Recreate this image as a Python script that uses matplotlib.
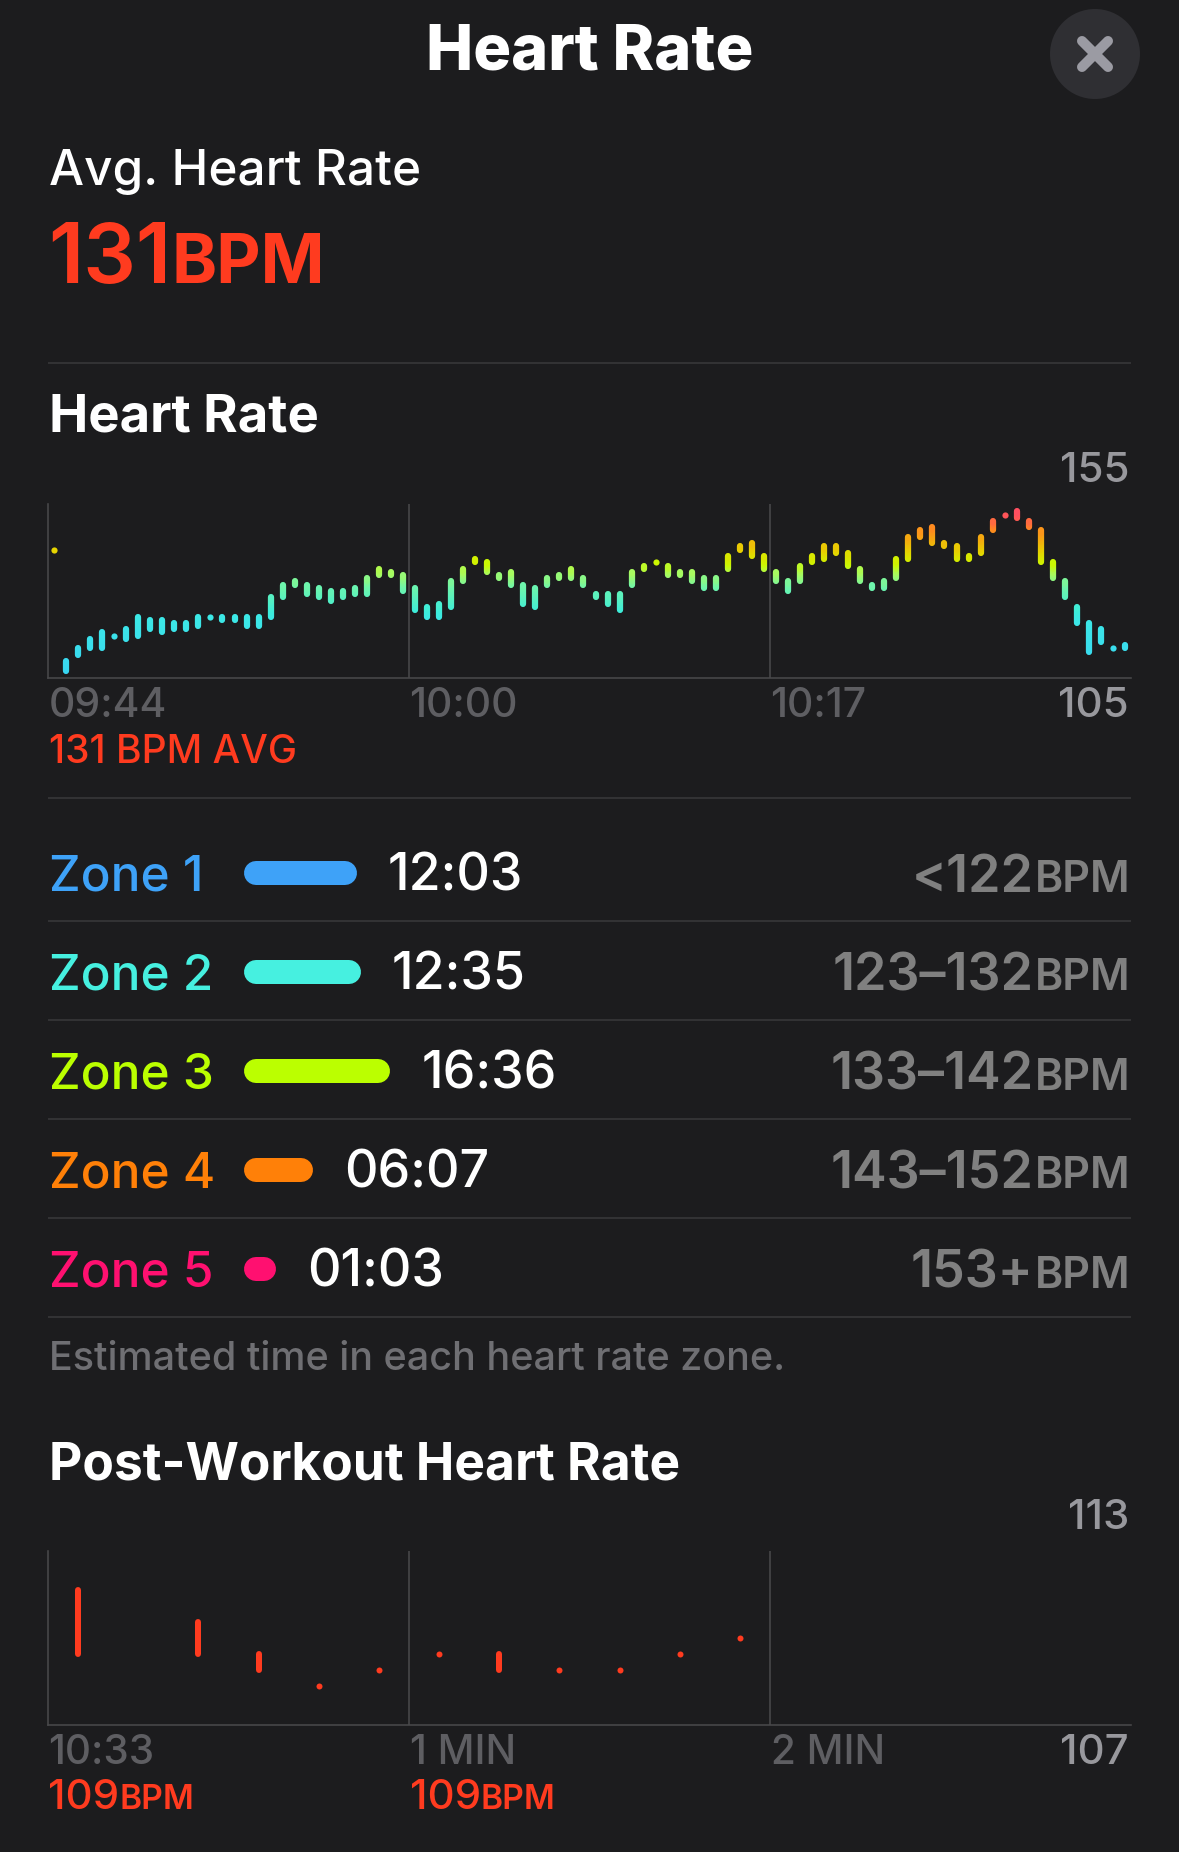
#!/usr/bin/env python3
"""
Dark heart rate workout summary screen: zones chart plus post-workout recovery.
"""

import matplotlib
matplotlib.use("Agg")
import matplotlib.pyplot as plt
from matplotlib.collections import LineCollection
from matplotlib.colors import LinearSegmentedColormap
from matplotlib.patches import Circle
import numpy as np

W, H = 1179, 1852
DPI = 100

BG = "#1C1C1E"
WHITE = "#FFFFFF"
RED = "#FF3B1F"
AXIS_C = "#48484A"
DIVIDER_C = "#3A3A3C"
TICK_C = "#5E5E62"
MUTED_C = "#98989D"
RANGE_C = "#808080"
NOTE_C = "#6F6F73"
FONT = ["Inter", "DejaVu Sans"]

# heart rate chart, one bar per bin
HR_LOW = [143, 105, 110, 112, 112, 116, 115, 116, 118, 117, 118, 118, 119, 122, 121,
          121, 119, 119, 122, 128, 132, 129, 128, 127, 128, 129, 129, 135, 135, 130,
          124, 122, 122, 125, 133, 139, 136, 134, 132, 126, 125, 132, 134, 134, 132,
          128, 126, 124, 132, 137, 139, 135, 135, 133, 131, 131, 137, 143, 141, 137,
          133, 130, 133, 139, 140, 142, 138, 133, 131, 131, 134, 140, 147, 145, 144,
          140, 140, 142, 149, 154, 153, 150, 139, 134, 128, 120, 111, 114, 112, 112]
HR_HIGH = [143, 108, 112, 115, 117, 116, 118, 122, 121, 121, 120, 120, 122, 122, 122,
           122, 122, 122, 128, 132, 133, 132, 131, 130, 130, 131, 134, 137, 136, 135,
           131, 125, 126, 133, 137, 140, 139, 135, 136, 132, 131, 134, 135, 137, 134,
           129, 129, 129, 136, 138, 139, 138, 136, 136, 134, 134, 141, 144, 145, 141,
           136, 133, 138, 141, 144, 144, 142, 137, 132, 133, 140, 147, 149, 150, 145,
           144, 141, 147, 152, 154, 155, 152, 149, 139, 133, 125, 120, 118, 112, 113]
HR_TICKS = [0, 30, 60]
HR_TICK_LABELS = ["09:44", "10:00", "10:17"]

# post-workout chart
POST_BINS = [0, 2, 3, 4, 5, 6, 7, 8, 9, 10, 11]
POST_LOW = [109, 109, 108, 107, 108, 109, 108, 108, 108, 109, 110]
POST_HIGH = [113, 111, 109, 107, 108, 109, 109, 108, 108, 109, 110]
POST_TICKS = [0, 6, 12]
POST_TICK_LABELS = ["10:33", "1 MIN", "2 MIN"]
POST_VALUES = ["109", "109"]

# zones
ZONE_NAMES = ["Zone 1", "Zone 2", "Zone 3", "Zone 4", "Zone 5"]
ZONE_COLORS = ["#3EA2F8", "#46F0E0", "#BBFF00", "#FF8008", "#FF1070"]
ZONE_SECONDS = [723, 755, 996, 367, 63]
ZONE_TIMES = ["12:03", "12:35", "16:36", "06:07", "01:03"]
ZONE_RANGES = ["<122", "123–132", "133–142", "143–152", "153+"]

BPM_STOPS = [105, 122, 124, 132, 136, 139, 143, 147, 150, 153, 155]
BPM_COLORS = ["#38D6F2", "#3CE8E6", "#3CECDC", "#70F5AA", "#A8FB60", "#CCF800",
              "#E6D400", "#F5A810", "#FF8A20", "#FF5A50", "#FF4F60"]


def pt(px):
    return px * 72 / DPI


def px_axes(fig, left, top, right, bottom):
    return fig.add_axes([left / W, 1 - bottom / H, (right - left) / W, (bottom - top) / H])


def style_chart(ax, xlim, ylim, ticks):
    ax.set_facecolor("none")
    ax.set_xlim(*xlim)
    ax.set_ylim(*ylim)
    ax.set_xticks([])
    ax.set_yticks([])
    for name, spine in ax.spines.items():
        spine.set_visible(name in ("left", "bottom"))
        spine.set_color(AXIS_C)
        spine.set_linewidth(pt(1.6))
    for x in ticks[1:]:
        ax.axvline(x, color=AXIS_C, lw=pt(1.6), zorder=1)


def heart_cmap():
    pos = (np.array(BPM_STOPS) - 105) / 50
    return LinearSegmentedColormap.from_list("hr", list(zip(pos, BPM_COLORS)))


def draw_hr_bars(ax, low, high):
    cmap = heart_cmap()
    segs, cols = [], []
    for i, (lo, hi) in enumerate(zip(low, high)):
        x = i + 0.5
        if lo == hi:
            ax.scatter([x], [lo], s=pt(6.2) ** 2, color=cmap((lo - 105) / 50), linewidths=0, zorder=3)
            continue
        edges = np.arange(lo, hi + 0.01, 0.25)
        for a, b in zip(edges[:-1], edges[1:]):
            segs.append([(x, a), (x, b)])
            cols.append(cmap(((a + b) / 2 - 105) / 50))
    ax.add_collection(LineCollection(segs, colors=cols, linewidths=pt(6.2), capstyle="round", zorder=3))


def draw_post_bars(ax):
    xs = np.array(POST_BINS) + 0.5
    lo, hi = np.array(POST_LOW), np.array(POST_HIGH)
    tall = lo != hi
    ax.vlines(xs[tall], lo[tall], hi[tall], color=RED, lw=pt(6), capstyle="round", zorder=3)
    ax.scatter(xs[~tall], lo[~tall], s=pt(6) ** 2, color=RED, linewidths=0, zorder=3)


def main():
    fig = plt.figure(figsize=(W / DPI, H / DPI), dpi=DPI, facecolor=BG)
    canvas = px_axes(fig, 0, 0, W, H)
    canvas.set_xlim(0, W)
    canvas.set_ylim(H, 0)
    canvas.axis("off")
    renderer = fig.canvas.get_renderer()

    def label(x, y, s, size, color, weight="normal", ha="left"):
        return canvas.text(x, y, s, fontsize=pt(size), color=color, fontweight=weight, ha=ha,
                           va="baseline", family=FONT)

    def number_unit(x, y, num, unit, size, unit_size, color, weight="normal", unit_weight=None, gap=0):
        t = label(x, y, num, size, color, weight)
        right = t.get_window_extent(renderer).x1
        label(right + gap, y, unit, unit_size, color, unit_weight or weight)

    def range_unit(x, y, num, unit, size, unit_size, color, weight="normal"):
        t = label(x, y, unit, unit_size, color, weight, ha="right")
        left = t.get_window_extent(renderer).x0
        label(left - 1, y, num, size, color, weight, ha="right")

    # header
    label(590, 70, "Heart Rate", 63, WHITE, "heavy", ha="center")
    canvas.add_patch(Circle((1095, 54), 45, fc="#2F2F33", ec="none"))
    canvas.plot([1082, 1108], [41, 67], color="#9B9BA3", lw=pt(10), solid_capstyle="round")
    canvas.plot([1082, 1108], [67, 41], color="#9B9BA3", lw=pt(10), solid_capstyle="round")

    label(49, 185, "Avg. Heart Rate", 49.5, WHITE, "medium")
    number_unit(48, 283, "131", "BPM", 83, 68.5, RED, "semibold", unit_weight="bold", gap=0)

    canvas.hlines([363, 798, 921, 1020, 1119, 1218, 1317], 48, 1131, color=DIVIDER_C, lw=pt(1.5))

    # heart rate chart
    label(49, 432, "Heart Rate", 52.5, WHITE, "bold")
    label(1129, 482, str(max(HR_HIGH)), 42, MUTED_C, "medium", ha="right")
    ax = px_axes(fig, 48, 504, 1131, 677.7)
    style_chart(ax, (0, len(HR_LOW)), (102.8, 157.3), HR_TICKS)
    draw_hr_bars(ax, HR_LOW, HR_HIGH)
    for tick, text in zip(HR_TICKS, HR_TICK_LABELS):
        label(48.5 + tick * 12.03, 717, text, 41, TICK_C, "medium")
    label(1129, 717, str(min(HR_LOW)), 42, MUTED_C, "medium", ha="right")
    label(49, 763, "131 BPM AVG", 39, RED, "medium")

    # zones
    rows = np.arange(len(ZONE_NAMES))
    zone_ax = px_axes(fig, 256, 873 - 49.5, 256 + 1000 * 0.1227, 873 + 4 * 99 + 49.5)
    zone_ax.set_xlim(0, 1000)
    zone_ax.set_ylim(4.5, -0.5)
    zone_ax.axis("off")
    zone_ax.hlines(rows, 0, ZONE_SECONDS, colors=ZONE_COLORS, lw=pt(24), capstyle="round", clip_on=False)
    for i in rows:
        y = 890.5 + 99 * i
        label(49, y, ZONE_NAMES[i], 49.5, ZONE_COLORS[i], "medium")
        label(256 + ZONE_SECONDS[i] * 0.1227 + 43, y, ZONE_TIMES[i], 52, WHITE, "medium")
        range_unit(1130, y + 1, ZONE_RANGES[i], "BPM", 52, 43, RANGE_C, "semibold")
    label(49, 1370, "Estimated time in each heart rate zone.", 39.5, NOTE_C, "medium")

    # post-workout chart
    label(49, 1480, "Post-Workout Heart Rate", 51.5, WHITE, "bold")
    label(1129, 1529, str(max(POST_HIGH)), 42, MUTED_C, "medium", ha="right")
    ax2 = px_axes(fig, 48, 1551, 1131, 1725)
    style_chart(ax2, (0, 18), (104.54, 115.42), POST_TICKS)
    draw_post_bars(ax2)
    for tick, text in zip(POST_TICKS, POST_TICK_LABELS):
        label(48.5 + tick * 60.17, 1764, text, 40.5, TICK_C, "medium")
    label(1129, 1764, str(min(POST_LOW)), 42, MUTED_C, "medium", ha="right")
    for tick, val in zip(POST_TICKS, POST_VALUES):
        number_unit(48.5 + tick * 60.17, 1809, val, "BPM", 42, 33.5, RED, "medium", unit_weight="semibold", gap=0)

    fig.savefig("out.png", dpi=DPI, facecolor=fig.get_facecolor())
    plt.close(fig)


if __name__ == "__main__":
    main()
